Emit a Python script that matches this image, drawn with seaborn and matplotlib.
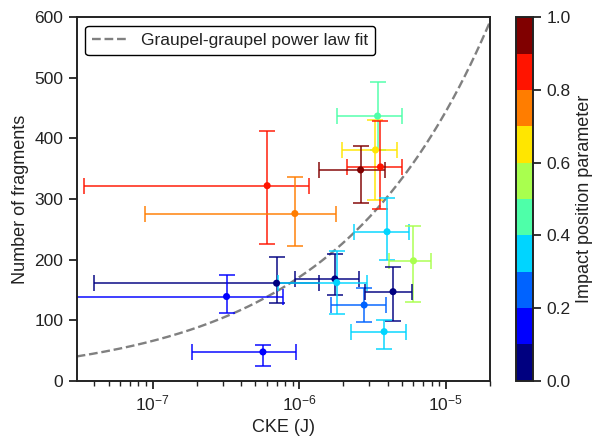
import numpy as np
import pandas as pd
import matplotlib
matplotlib.use("Agg")
import matplotlib.pyplot as plt
import seaborn as sns

# ---- data ----
cke = [6.04e-7, 9.33e-7, 3.42e-6, 3.31e-6, 3.58e-6, 2.62e-6, 3.97e-6, 6.01e-6,
       7.0e-7, 1.75e-6, 1.80e-6, 2.77e-6, 4.36e-6, 3.79e-6, 3.19e-7, 5.65e-7]
cke_err = [5.7e-7, 8.45e-7, 1.61e-6, 1.35e-6, 1.45e-6, 1.25e-6, 1.61e-6, 1.9e-6,
           6.6e-7, 8.2e-7, 1.08e-6, 1.12e-6, 1.55e-6, 1.53e-6, 4.5e-7, 3.8e-7]
fragments = [322, 276, 437, 381, 353, 348, 246, 198,
             161, 168, 162, 125, 147, 81, 139, 47.5]
frag_err_low = [96, 53, 56, 83, 70, 55, 47, 68,
                33, 27, 52, 28, 49, 28, 27, 24]
frag_err_high = [90, 60, 56, 50, 76, 40, 55, 58,
                 43, 42, 52, 28, 41, 19, 35, 12]
impact_param = [0.85, 0.75, 0.45, 0.65, 0.85, 0.95, 0.35, 0.55,
                0.05, 0.05, 0.35, 0.25, 0.05, 0.35, 0.15, 0.15]

# power-law fit N = a * CKE^b
fit_a = 52840.0
fit_b = 0.415
fit_label = "Graupel-graupel power law fit"

xlim = (3.03e-8, 2.0e-5)
ylim = (0, 600)

df = pd.DataFrame({"cke": cke, "cke_err": cke_err, "frag": fragments,
                   "lo": frag_err_low, "hi": frag_err_high, "ipp": impact_param})

sns.set_theme(style="ticks", context="notebook")
plt.rcParams["font.family"] = ["Liberation Sans", "DejaVu Sans"]
plt.rcParams["mathtext.default"] = "regular"
plt.rcParams.update({
    "axes.edgecolor": "#222222", "xtick.color": "#222222", "ytick.color": "#222222",
    "text.color": "#222222", "axes.labelcolor": "#222222",
    "xtick.labelcolor": "#222222", "ytick.labelcolor": "#222222",
    "axes.linewidth": 1.4, "xtick.major.size": 6, "ytick.major.size": 6,
    "xtick.minor.size": 3.5, "xtick.major.width": 1.3, "ytick.major.width": 1.3,
    "xtick.minor.width": 1.0,
})

cmap = plt.get_cmap("jet", 10)
norm = matplotlib.colors.Normalize(vmin=0, vmax=1)

fig = plt.figure(figsize=(5.93, 4.41), dpi=100)
ax = fig.add_axes([0.1293, 0.1367, 0.6970, 0.8241])
cax = fig.add_axes([0.8696, 0.1367, 0.0297, 0.8241])

ax.set_xscale("log")

# fit line
xs = np.logspace(np.log10(xlim[0]), np.log10(xlim[1]), 300)
ax.plot(xs, fit_a * xs ** fit_b, linestyle="--", color="gray", lw=1.7,
        label=fit_label, zorder=1)

# error bars
for _, r in df.iterrows():
    col = cmap(norm(r["ipp"]))
    ax.errorbar(r["cke"], r["frag"], xerr=r["cke_err"],
                yerr=[[r["lo"]], [r["hi"]]], fmt="none", ecolor=col,
                alpha=0.75, elinewidth=1.4, capsize=5.5, capthick=1.4, zorder=2)

sns.scatterplot(data=df, x="cke", y="frag", hue="ipp", palette=cmap,
                hue_norm=(0, 1), s=26, linewidth=0, legend=False, ax=ax,
                zorder=3)

ax.set_xlim(*xlim)
ax.set_ylim(*ylim)
ax.set_yticks(range(0, 601, 100))
ax.set_xlabel("CKE (J)", fontsize=13)
ax.set_ylabel("Number of fragments", fontsize=13)
ax.tick_params(axis="both", which="major", labelsize=12.5)

leg = ax.legend(loc="upper left", frameon=True, fancybox=True, framealpha=1,
                edgecolor="black", fontsize=12.5)

sm = matplotlib.cm.ScalarMappable(norm=norm, cmap=cmap)
cb = fig.colorbar(sm, cax=cax, ticks=[0, 0.2, 0.4, 0.6, 0.8, 1.0])
cb.set_label("Impact position parameter", fontsize=13)
cb.ax.tick_params(labelsize=12.5)
cb.ax.yaxis.set_major_formatter(matplotlib.ticker.FormatStrFormatter("%.1f"))
cb.outline.set_linewidth(1.4)

fig.savefig("out.png", dpi=100)
